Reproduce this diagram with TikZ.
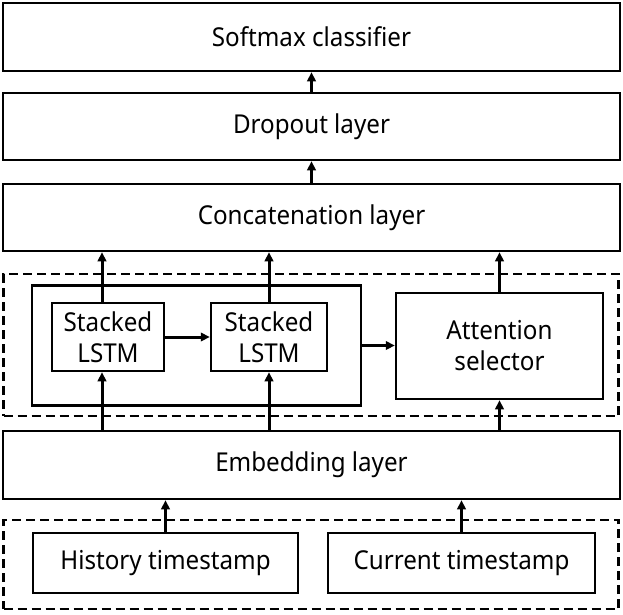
\documentclass[tikz,border=0pt]{standalone}
\usepackage{fontspec}
\setmainfont[FakeStretch=0.93]{Noto Sans}
\usetikzlibrary{arrows.meta}
\begin{document}
\begin{tikzpicture}[x=1pt,y=-1pt,
  box/.style={draw, line width=2.5pt, inner sep=0pt, font=\fontsize{26}{31}\selectfont, align=center},
  dbox/.style={draw, line width=2.5pt, dash pattern=on 9pt off 5pt, inner sep=0pt},
  arr/.style={line width=3pt, -{Triangle[length=9pt,width=8.5pt]}}]
\useasboundingbox (0,0) rectangle (623,614);
\node[box, minimum width=617, minimum height=68] (soft) at (311.5,37) {Softmax classifier};
\node[box, minimum width=617, minimum height=67] (drop) at (311.5,126.5) {Dropout layer};
\node[box, minimum width=617, minimum height=67] (concat) at (311.5,217.5) {Concatenation layer};
\node[dbox, minimum width=615, minimum height=142] (dash1) at (311,345) {};
\node[box, minimum width=329, minimum height=120] (outer) at (196.5,345.5) {};
\node[box, minimum width=112, minimum height=68] (s1) at (108,337) {Stacked\\LSTM};
\node[box, minimum width=116, minimum height=68] (s2) at (269,337) {Stacked\\LSTM};
\node[box, minimum width=207, minimum height=106] (att) at (499.5,346) {Attention\\selector};
\node[box, minimum width=617, minimum height=68] (emb) at (311.5,465) {Embedding layer};
\node[dbox, minimum width=615, minimum height=89] (dash2) at (311,564.5) {};
\node[box, minimum width=265, minimum height=60] (hist) at (165.5,563) {History timestamp};
\node[box, minimum width=267, minimum height=60] (cur) at (461.5,563) {Current timestamp};
% arrows
\draw[arr] (drop.north) -- (soft.south);
\draw[arr] (concat.north) -- (drop.south);
\draw[arr] ([xshift=-6pt]s1.north) -- ([xshift=-6pt]s1.north |- concat.south);
\draw[arr] (s2.north) -- (s2.north |- concat.south);
\draw[arr] (att.north) -- (att.north |- concat.south);
\draw[arr] (s1.east) -- (s2.west);
\draw[arr] (outer.east) -- (outer.east -| att.west);
\draw[arr] ([xshift=-6pt]s1.south |- emb.north) -- ([xshift=-6pt]s1.south);
\draw[arr] (s2.south |- emb.north) -- (s2.south);
\draw[arr] (att.south |- emb.north) -- (att.south);
\draw[arr] (hist.north) -- (hist.north |- emb.south);
\draw[arr] (cur.north) -- (cur.north |- emb.south);
\end{tikzpicture}
\end{document}
